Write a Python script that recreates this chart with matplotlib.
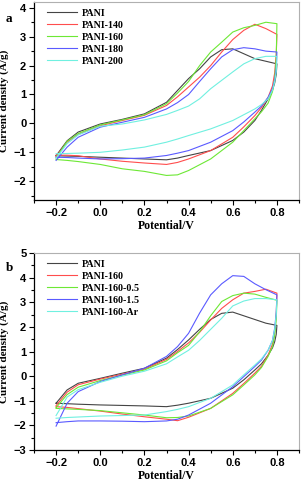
import matplotlib
matplotlib.use("Agg")
import matplotlib.pyplot as plt
from matplotlib.ticker import MultipleLocator

plt.rcParams["font.family"] = ["Liberation Serif", "DejaVu Serif"]
plt.rcParams["font.weight"] = "bold"

# ---- panel a: CV loops (anodic sweep -0.2 -> 0.8, then cathodic back) ----
x_up = [-0.2, -0.15, -0.1, 0.0, 0.1, 0.2, 0.3, 0.35, 0.4, 0.45, 0.5, 0.55, 0.6, 0.65, 0.7, 0.75, 0.8]
x_down = [0.8, 0.797, 0.79, 0.78, 0.76, 0.73, 0.7, 0.65, 0.6, 0.5, 0.4, 0.35, 0.3, 0.2, 0.1, 0.0, -0.1, -0.15, -0.2]

a_labels = ["PANI", "PANI-140", "PANI-160", "PANI-180", "PANI-200"]
a_up = [
    [-1.12, -0.6, -0.3, -0.02, 0.14, 0.33, 0.73, 1.14, 1.55, 1.89, 2.3, 2.55, 2.58, 2.41, 2.24, 2.15, 2.06],
    [-1.15, -0.65, -0.38, -0.08, 0.1, 0.28, 0.62, 0.92, 1.26, 1.6, 2.0, 2.47, 2.9, 3.22, 3.43, 3.28, 3.08],
    [-1.2, -0.62, -0.35, -0.05, 0.12, 0.3, 0.68, 1.05, 1.45, 2.0, 2.47, 2.81, 3.16, 3.31, 3.39, 3.5, 3.45],
    [-1.28, -0.82, -0.48, -0.13, 0.04, 0.21, 0.5, 0.72, 1.0, 1.45, 1.89, 2.3, 2.55, 2.62, 2.58, 2.5, 2.47],
    [-1.2, -0.7, -0.4, -0.1, -0.02, 0.12, 0.31, 0.45, 0.6, 0.85, 1.2, 1.49, 1.78, 2.06, 2.24, 2.32, 2.32],
]
a_down = [
    [2.06, 1.7, 1.4, 1.15, 0.85, 0.45, 0.1, -0.3, -0.59, -0.94, -1.11, -1.2, -1.26, -1.23, -1.2, -1.17, -1.14, -1.13, -1.12],
    [3.08, 2.4, 1.75, 1.3, 0.9, 0.55, 0.27, -0.12, -0.48, -0.94, -1.23, -1.35, -1.42, -1.37, -1.31, -1.23, -1.12, -1.1, -1.1],
    [3.45, 2.3, 1.55, 1.1, 0.7, 0.4, 0.16, -0.25, -0.65, -1.23, -1.63, -1.78, -1.8, -1.66, -1.57, -1.42, -1.32, -1.28, -1.25],
    [2.47, 1.9, 1.5, 1.2, 0.9, 0.6, 0.39, 0.05, -0.25, -0.65, -0.94, -1.03, -1.11, -1.2, -1.22, -1.23, -1.2, -1.18, -1.17],
    [2.32, 1.8, 1.45, 1.15, 0.85, 0.65, 0.5, 0.3, 0.1, -0.19, -0.42, -0.54, -0.65, -0.82, -0.92, -1.0, -1.03, -1.04, -1.05],
]

# ---- panel b ----
b_labels = ["PANI", "PANI-160", "PANI-160-0.5", "PANI-160-1.5", "PANI-160-Ar"]
b_up = [
    [-1.1, -0.56, -0.29, -0.09, 0.12, 0.32, 0.73, 1.08, 1.47, 1.9, 2.3, 2.55, 2.6, 2.45, 2.3, 2.15, 2.06],
    [-1.2, -0.65, -0.35, -0.12, 0.08, 0.28, 0.68, 1.0, 1.35, 1.78, 2.28, 2.75, 3.1, 3.37, 3.44, 3.53, 3.37],
    [-1.28, -0.75, -0.45, -0.18, 0.04, 0.25, 0.62, 0.95, 1.25, 1.8, 2.45, 3.03, 3.27, 3.37, 3.33, 3.2, 3.08],
    [-2.03, -1.1, -0.63, -0.22, 0.05, 0.32, 0.8, 1.2, 1.74, 2.56, 3.3, 3.75, 4.08, 4.05, 3.75, 3.51, 3.3],
    [-1.6, -0.85, -0.55, -0.25, 0.0, 0.2, 0.5, 0.78, 1.05, 1.45, 1.9, 2.35, 2.85, 3.05, 3.15, 3.15, 3.1],
]
b_down = [
    [2.06, 1.7, 1.4, 1.15, 0.85, 0.5, 0.25, -0.15, -0.49, -0.9, -1.1, -1.18, -1.24, -1.21, -1.19, -1.17, -1.14, -1.12, -1.1],
    [3.37, 2.5, 1.8, 1.3, 0.85, 0.4, 0.12, -0.3, -0.7, -1.31, -1.67, -1.81, -1.75, -1.65, -1.54, -1.42, -1.32, -1.27, -1.24],
    [3.08, 2.3, 1.65, 1.2, 0.8, 0.35, 0.05, -0.36, -0.76, -1.31, -1.62, -1.68, -1.69, -1.58, -1.49, -1.4, -1.35, -1.33, -1.31],
    [3.3, 2.6, 1.95, 1.45, 1.05, 0.65, 0.39, -0.02, -0.43, -1.1, -1.58, -1.75, -1.82, -1.85, -1.83, -1.82, -1.82, -1.85, -1.89],
    [3.1, 2.5, 1.9, 1.45, 1.05, 0.7, 0.45, 0.05, -0.36, -0.9, -1.24, -1.35, -1.44, -1.58, -1.6, -1.62, -1.66, -1.68, -1.71],
]

colors = ["#444444", "#ff4d4d", "#6de835", "#5a5aff", "#70f0e0"]

W, H = 301, 483
fig = plt.figure(figsize=(W / 100, H / 100), dpi=100)
ax_a = fig.add_axes([34 / W, 283 / H, 265 / W, 198 / H])
ax_b = fig.add_axes([34 / W, 33 / H, 265 / W, 197 / H])


def draw_panel(ax, labels, ups, downs, ylim, letter, letter_y):
    for lab, yu, yd, c in zip(labels, ups, downs, colors):
        ax.plot(x_up + x_down, yu + yd, color=c, lw=0.8, label=lab)
    ax.set_xlim(-0.3, 0.9)
    ax.set_ylim(*ylim)
    ax.xaxis.set_major_locator(MultipleLocator(0.2))
    ax.xaxis.set_minor_locator(MultipleLocator(0.1))
    ax.yaxis.set_major_locator(MultipleLocator(1))
    ax.yaxis.set_minor_locator(MultipleLocator(0.5))
    ax.tick_params(which="both", direction="out", top=False, right=False,
                   labelsize=8, width=0.8, pad=2)
    ax.tick_params(which="major", length=3.5)
    ax.tick_params(which="minor", length=2)
    for t in ax.get_xticklabels() + ax.get_yticklabels():
        t.set_fontfamily(["Liberation Sans", "DejaVu Sans"])
        t.set_fontweight("bold")
    for s in ["top", "right"]:
        ax.spines[s].set_color("#b0b0b0")
    for s in ["left", "bottom"]:
        ax.spines[s].set_linewidth(0.9)
    ax.set_xlabel("Potential/V", fontsize=8.5, fontweight="bold", labelpad=2)
    ax.set_ylabel("Current density (A/g)", fontsize=8.0, fontweight="bold", labelpad=3)
    fig.text(6 / W, 1 - letter_y / H, letter, fontsize=9.5, fontweight="bold",
             va="center", ha="left")
    ax.legend(loc="upper left", frameon=False, handlelength=3.0,
              handletextpad=0.5, labelspacing=0.3, borderaxespad=0.2,
              bbox_to_anchor=(0.025, 0.995), prop={"weight": "bold", "size": 7.2})


draw_panel(ax_a, a_labels, a_up, a_down, (-2.65, 4.2), "a", 19)
draw_panel(ax_b, b_labels, b_up, b_down, (-3, 5), "b", 268)

fig.savefig("out.png", dpi=100)
